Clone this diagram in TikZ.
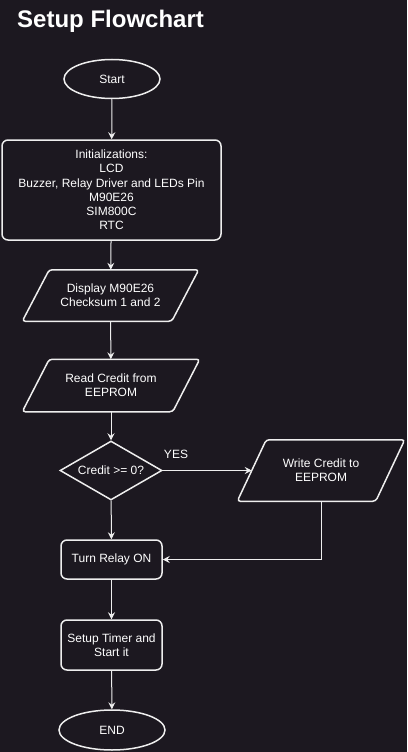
\documentclass[tikz,border=0pt]{standalone}
\usepackage{fontspec}
\setmainfont{Liberation Sans}
\usetikzlibrary{shapes.geometric,arrows.meta}

\definecolor{bg}{RGB}{28,24,32}
\definecolor{ln}{RGB}{238,238,238}

\tikzset{
  base/.style={draw=ln, line width=1.5pt, text=white, align=center,
    font=\fontsize{12}{14.2}\selectfont, inner sep=0pt},
  term/.style={base, ellipse, minimum width=96pt, minimum height=39pt},
  proc/.style={base, rectangle, rounded corners=6pt},
  io/.style={base, draw=none, rectangle},
  ioline/.style={draw=ln, line width=1.5pt, rounded corners=3pt},
  dec/.style={base, diamond, aspect=1.7, minimum width=102pt, minimum height=59pt},
  flow/.style={draw=ln, line width=1pt, ->, >={Stealth[length=7pt,width=7pt,inset=2.5pt]}}
}

\begin{document}
\begin{tikzpicture}[x=1pt, y=-1pt]

    % Background
    \fill[bg] (0,0) rectangle (407,752);

    % Title
    \node[anchor=base west, inner sep=0pt, text=white,
          font=\bfseries\fontsize{24}{28}\selectfont] (title) at (17,28) {Setup Flowchart};

    % Nodes
    \node[term] (start) at (112,79) {Start};
    \node[proc, minimum width=219pt, minimum height=100pt] (init) at (111.5,190)
        {Initializations:\\LCD\\Buzzer, Relay Driver and LEDs Pin\\M90E26\\SIM800C\\RTC};
    \node[io, minimum width=175pt, minimum height=50pt] (disp) at (110.5,295.5)
        {Display M90E26\\Checksum 1 and 2};
    \node[io, minimum width=176pt, minimum height=51pt] (read) at (111,385.5)
        {Read Credit from\\EEPROM};
    \node[dec] (cond) at (111,470.5) {Credit >= 0?};
    \node[io, minimum width=166pt, minimum height=60pt] (write) at (321,470.5)
        {Write Credit to\\EEPROM};
    \node[proc, minimum width=101pt, minimum height=39pt] (relay) at (111.5,559.5) {Turn Relay ON};
    \node[proc, minimum width=101pt, minimum height=50pt] (timer) at (111.5,645)
        {Setup Timer and\\Start it};
    \node[term, minimum width=106pt, minimum height=40pt] (stop) at (112,730) {END};

    % Parallelograms round the input/output nodes
    \draw[ioline] ([xshift=27pt]disp.north west) -- (disp.north east)
        -- ([xshift=-27pt]disp.south east) -- (disp.south west) -- cycle;
    \draw[ioline] ([xshift=27pt]read.north west) -- (read.north east)
        -- ([xshift=-27pt]read.south east) -- (read.south west) -- cycle;
    \draw[ioline] ([xshift=29pt]write.north west) -- (write.north east)
        -- ([xshift=-29pt]write.south east) -- (write.south west) -- cycle;
    \coordinate (wl) at ([xshift=14.5pt]write.west);

    % Connectors
    \draw[flow] (start) -- (init);
    \draw[flow] (init) -- (disp);
    \draw[flow] (disp) -- (read);
    \draw[flow] (read) -- (cond);
    \draw[flow] (cond) -- (wl);
    \node[text=white, font=\fontsize{12}{14}\selectfont, inner sep=0pt] (yes) at (176,454) {YES};
    \draw[flow] (cond) -- (relay);
    \draw[flow] (write.south) |- (relay);
    \draw[flow] (relay) -- (timer);
    \draw[flow] (timer) -- (stop);

\end{tikzpicture}
\end{document}
